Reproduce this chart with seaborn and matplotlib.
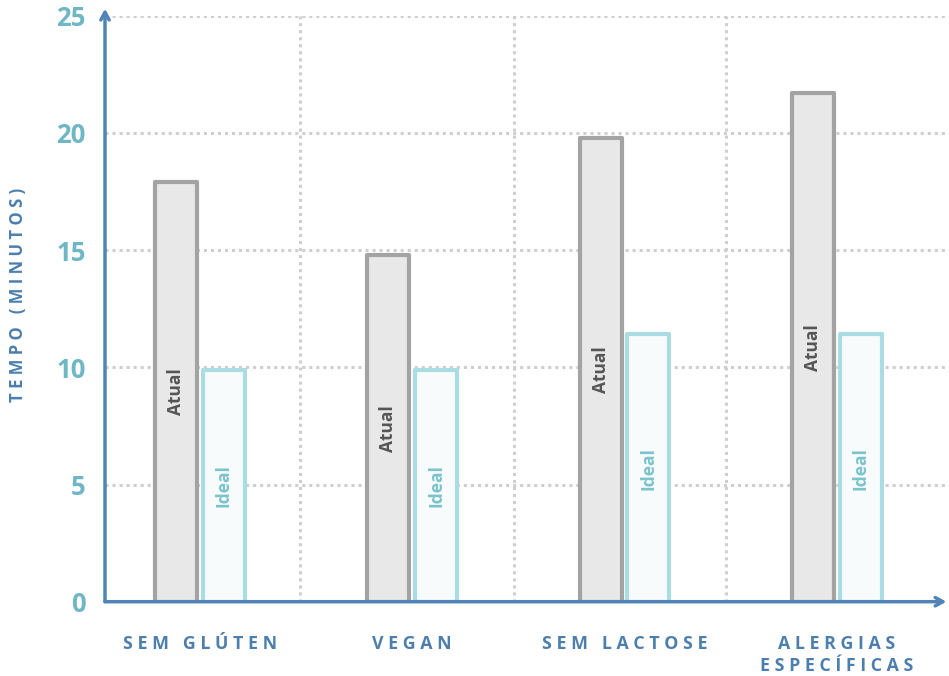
import pandas as pd
import seaborn as sns
import matplotlib.pyplot as plt

# data
categorias = ["SEM GLÚTEN", "VEGAN", "SEM LACTOSE", "ALERGIAS\nESPECÍFICAS"]
atual = [17.9, 14.8, 19.8, 21.7]
ideal = [9.9, 9.9, 11.4, 11.4]
serie_nomes = ["Atual", "Ideal"]
y_ticks = [0, 5, 10, 15, 20, 25]
y_titulo = "TEMPO (MINUTOS)"

AXIS_BLUE = "#4f85b6"
TEXT_BLUE = "#4c7fae"
TICK_TEAL = "#6fb7c4"
GRID = "#cfcfcf"
fills = {"Atual": "#e8e8e8", "Ideal": "#f6fbfd"}
edges = {"Atual": "#a3a3a3", "Ideal": "#a9dde2"}
inner_text = {"Atual": "#555555", "Ideal": "#7cc3cc"}

FONT = ["Open Sans", "DejaVu Sans"]


def spaced(s, gap=" "):
    # fake letter spacing
    lines = []
    for line in s.split("\n"):
        words = [gap.join(w) for w in line.split(" ")]
        lines.append((gap * 3).join(words))
    return "\n".join(lines)


df = pd.DataFrame({
    "categoria": categorias * 2,
    "tipo": [serie_nomes[0]] * len(categorias) + [serie_nomes[1]] * len(categorias),
    "valor": atual + ideal,
})

sns.set_style("white")
plt.rcParams["font.family"] = FONT

fig = plt.figure(figsize=(9.49, 6.76), dpi=100)
ax = fig.add_axes([105 / 949, 1 - 601.7 / 676, 1 - 105 / 949, (601.7 - 15.7) / 676])

sns.barplot(data=df, x="categoria", y="valor", hue="tipo", order=categorias,
            hue_order=serie_nomes, palette=fills, width=0.45, gap=0.12,
            legend=False, ax=ax, zorder=3)

for cont, nome in zip(ax.containers, serie_nomes):
    for bar in cont:
        bar.set_edgecolor(edges[nome])
        bar.set_linewidth(3)
        bar.set_joinstyle("round")
    ax.bar_label(cont, labels=[nome] * len(cont), label_type="center",
                 rotation=90, color=inner_text[nome], fontsize=12.5,
                 fontweight="bold", family=FONT)

ax.set_xlim(-0.447, 3.528)
ax.set_ylim(0, 25)

# dotted grid
for y in y_ticks[1:]:
    ax.axhline(y, xmin=0, xmax=0.995, color=GRID, lw=2.2,
               linestyle=(0, (1, 1.3)), zorder=1)
for x in [0.47, 1.48, 2.48]:
    ax.axvline(x, color=GRID, lw=2.2, linestyle=(0, (1, 1.3)), zorder=1)

for s in ax.spines.values():
    s.set_visible(False)

# axis lines with arrow heads
ax.annotate("", xy=(0, 1.012), xytext=(0, 0), xycoords="axes fraction",
            arrowprops=dict(arrowstyle="->,head_length=0.55,head_width=0.3",
                            color=AXIS_BLUE, lw=2.5, shrinkA=0, shrinkB=0),
            annotation_clip=False, zorder=5)
ax.annotate("", xy=(0.997, 0), xytext=(0, 0), xycoords="axes fraction",
            arrowprops=dict(arrowstyle="->,head_length=0.55,head_width=0.3",
                            color=AXIS_BLUE, lw=2.5, shrinkA=0, shrinkB=0),
            annotation_clip=False, zorder=5)

ax.set_yticks(y_ticks)
ax.set_yticklabels([str(v) for v in y_ticks], color=TICK_TEAL,
                   fontsize=18.5, fontweight="bold")
ax.set_xticks(range(len(categorias)))
ax.set_xticklabels([spaced(c) for c in categorias], color=TEXT_BLUE,
                   fontsize=12.8, fontweight="bold", linespacing=1.3)
ax.tick_params(axis="y", length=0, pad=14)
ax.tick_params(axis="x", length=0, pad=24)
ax.set_xlabel("")
ax.set_ylabel("")

fig.text(18 / 949, 1 - 295 / 676, spaced(y_titulo), rotation=90,
         ha="center", va="center", color=TEXT_BLUE, fontsize=12,
         fontweight="bold")

fig.savefig("out.png", dpi=100)
